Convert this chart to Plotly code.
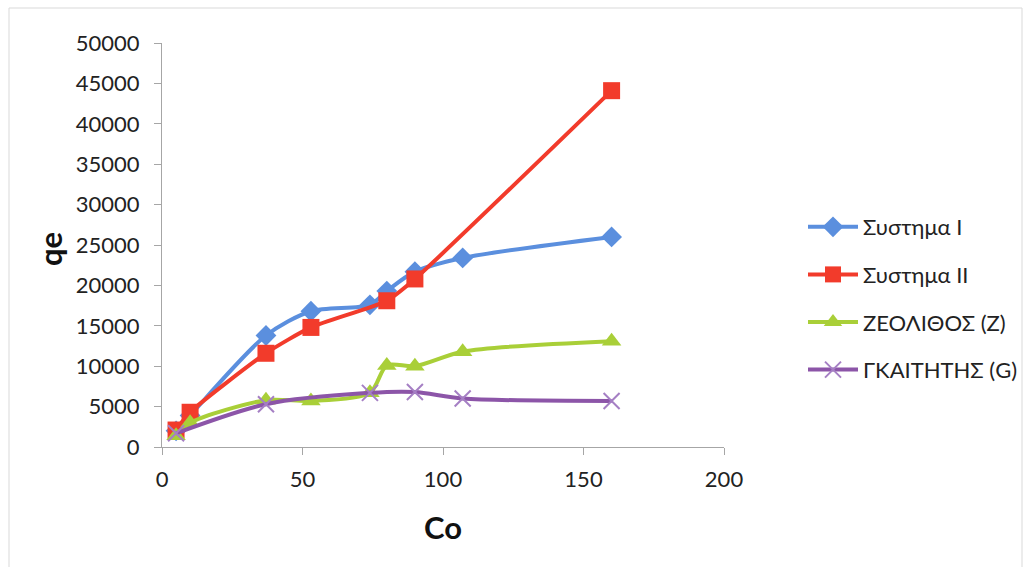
import plotly.graph_objects as go

# ---- data ----
sys1_x = [5, 10, 37, 53, 74, 80, 90, 107, 160]
sys1_y = [2000, 3900, 13800, 16800, 17600, 19300, 21700, 23400, 26000]

sys2_x = [5, 10, 37, 53, 80, 90, 160]
sys2_y = [2100, 4300, 11600, 14800, 18100, 20800, 44100]

zeo_x = [5, 10, 37, 53, 74, 80, 90, 107, 160]
zeo_y = [1400, 3000, 5800, 5700, 6700, 10100, 10000, 11800, 13100]

gka_x = [5, 37, 74, 90, 107, 160]
gka_y = [1700, 5300, 6700, 6800, 6000, 5700]

names = ["Συστημα I", "Συστημα II", "ΖΕΟΛΙΘΟΣ (Z)", "ΓΚΑΙΤΗΤΗΣ (G)"]
x_ticks = [0, 50, 100, 150, 200]
y_ticks = list(range(0, 50001, 5000))

FONT = "Lato, 'Open Sans', sans-serif"

fig = go.Figure()
fig.add_trace(go.Scatter(
    x=sys1_x, y=sys1_y, name=names[0], mode="lines+markers", legendgroup="a",
    line=dict(color="#5B8FDE", width=4, shape="spline", smoothing=0.8),
    marker=dict(symbol="diamond", size=16, color="#5B8FDE")))
fig.add_trace(go.Scatter(
    x=sys2_x, y=sys2_y, name=names[1], mode="lines+markers", legendgroup="b",
    line=dict(color="#F23B2B", width=4, shape="spline", smoothing=0.6),
    marker=dict(symbol="square", size=17, color="#F23B2B")))
fig.add_trace(go.Scatter(
    x=zeo_x, y=zeo_y, name=names[2], mode="lines+markers", legendgroup="c",
    line=dict(color="#A9CF38", width=4, shape="spline", smoothing=0.8),
    marker=dict(symbol="triangle-up", size=17, color="#A9CF38")))
fig.add_trace(go.Scatter(
    x=gka_x, y=gka_y, name=names[3], mode="lines+markers", legendgroup="d",
    line=dict(color="#8C55A8", width=4, shape="spline", smoothing=0.8),
    marker=dict(symbol="x-thin", size=16, color="#A57FC4",
                line=dict(color="#A57FC4", width=2))))

axis_common = dict(showgrid=False, zeroline=False, showline=True,
                   linecolor="#A6A6A6", linewidth=1, ticks="outside",
                   tickcolor="#A6A6A6", ticklen=7,
                   tickfont=dict(family=FONT, size=22, color="#222"))

fig.update_xaxes(range=[0, 200], tickvals=x_ticks, tickformat="d",
                 ticklabelstandoff=6, **axis_common)
fig.update_yaxes(range=[0, 50000], tickvals=y_ticks, tickformat="d",
                 ticklabelstandoff=10, **axis_common)

W, L, T, H = 562.0, 162.0, 43.0, 404.0
def px(xp):
    return (xp - L) / W
def py(yp):
    return (T + H - yp) / H

fig.update_layout(
    width=1030, height=567,
    margin=dict(l=162, r=306, t=43, b=120, autoexpand=False),
    paper_bgcolor="white", plot_bgcolor="white",
    font=dict(family=FONT),
    legend=dict(x=px(803), y=py(206), xanchor="left", yanchor="top",
                font=dict(family=FONT, size=22, color="#222"),
                tracegroupgap=16, traceorder="grouped", itemwidth=50,
                bgcolor="rgba(0,0,0,0)"),
    annotations=[
        dict(text="<b>Co</b>", x=px(443), y=py(527), xref="paper", yref="paper",
             xanchor="center", yanchor="middle", showarrow=False,
             font=dict(family=FONT, size=31, color="#111")),
        dict(text="<b>qe</b>", textangle=-90, x=px(50), y=py(249),
             xref="paper", yref="paper", xanchor="center", yanchor="middle",
             showarrow=False, font=dict(family=FONT, size=31, color="#111")),
    ],
)

fig.add_shape(type="rect", xref="paper", yref="paper",
              x0=px(9), x1=px(1022), y0=py(580), y1=py(8),
              line=dict(color="#D9D9D9", width=1), fillcolor="rgba(0,0,0,0)",
              layer="below")

fig.write_html("out.html")
